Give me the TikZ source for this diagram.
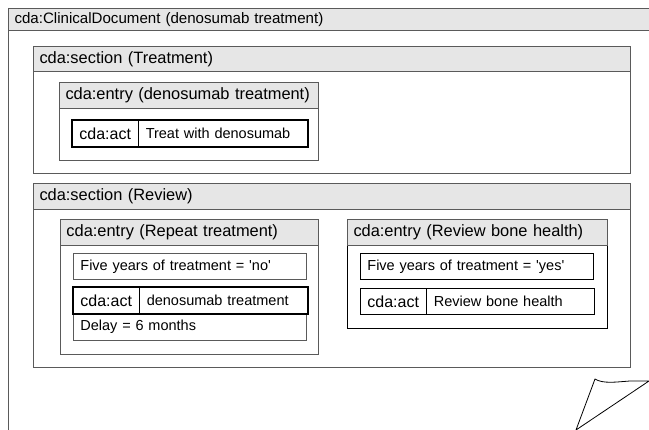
\documentclass[tikz,border=0pt]{standalone}
\usepackage{fontspec}
\setmainfont{Liberation Sans}
\definecolor{hdrgray}{HTML}{E6E6E6}
\definecolor{linegray}{HTML}{5A5A5A}
\tikzset{frame/.style={draw=linegray,line width=1pt,anchor=north west,inner sep=0pt}}
\tikzset{hdr/.style={draw=linegray,fill=hdrgray,line width=1pt,anchor=north west,inner xsep=6pt,inner ysep=0pt,align=left,font={\fontsize{16.4}{19}\selectfont}}}
\tikzset{cell/.style={draw=#1,line width=0.8pt,anchor=north west,inner xsep=7pt,inner ysep=0pt,align=left,minimum height=26pt,font={\fontsize{14.5}{17}\selectfont}}}
\tikzset{cell/.default={black}}
\tikzset{actlbl/.style={cell,minimum width=65pt,font={\fontsize{16}{19}\selectfont}}}
\tikzset{actbox/.style={draw,line width=1.6pt}}

\begin{document}
\begin{tikzpicture}[x=1pt,y=-1pt]
        \useasboundingbox (0,0) rectangle (649,430);
        % clinical document
        \coordinate (docbot) at (8,430);
        \node[hdr,text width=632pt,minimum height=22pt,font={\fontsize{15.1}{18}\selectfont}] (doch) at (8,8) {cda:ClinicalDocument (denosumab treatment)};
        \draw[linegray,line width=1pt] (doch.north west) -- (docbot);

        % section: treatment
        \node[frame,minimum width=597pt,minimum height=127pt] (sec1) at (33,46) {};
        \node[hdr,text width=585pt,minimum height=25pt] (sec1h) at (sec1.north west) {cda:section (Treatment)};
        \node[frame,minimum width=259pt,minimum height=78pt] (ent1) at (59,82) {};
        \node[hdr,text width=247pt,minimum height=26pt] (ent1h) at (ent1.north west) {cda:entry (denosumab treatment)};
        \node[actlbl] (act1a) at (72,120) {cda:act};
        \node[cell,text width=155pt] (act1b) at (act1a.north east) {Treat with denosumab};
        \draw[actbox] (act1a.north west) rectangle (act1b.south east);

        % section: review
        \node[frame,minimum width=597pt,minimum height=184pt] (sec2) at (33,183) {};
        \node[hdr,text width=585pt,minimum height=26pt] (sec2h) at (sec2.north west) {cda:section (Review)};

        % entry: repeat treatment
        \node[frame,minimum width=258pt,minimum height=135pt] (ent2) at (60,219) {};
        \node[hdr,text width=246pt,minimum height=26pt] (ent2h) at (ent2.north west) {cda:entry (Repeat treatment)};
        \node[cell=linegray,text width=219pt] (cond2) at (73,253) {Five years of treatment = \textquotesingle no\textquotesingle};
        \node[actlbl] (act2a) at (73,287) {cda:act};
        \node[cell,text width=154pt] (act2b) at (act2a.north east) {denosumab treatment};
        \node[cell=linegray,text width=219pt] (delay2) at (act2a.south west) {Delay = 6 months};
        \draw[actbox] (act2a.north west) rectangle (act2b.south east);

        % entry: review bone health
        \node[frame,draw=black,minimum width=260pt,minimum height=109pt] (ent3) at (347,219) {};
        \node[hdr,text width=248pt,minimum height=26pt] (ent3h) at (ent3.north west) {cda:entry (Review bone health)};
        \node[cell,text width=219pt] (cond3) at (360,253) {Five years of treatment = \textquotesingle yes\textquotesingle};
        \node[actlbl] (act3a) at (360,288) {cda:act};
        \node[cell,text width=154pt] (act3b) at (act3a.north east) {Review bone health};

        % page curl
        \draw[line width=0.8pt,line join=round] (576,430) -- (595,379) .. controls (603,384) and (616,382) .. (630,381) -- (649,381) -- cycle;
\end{tikzpicture}
\end{document}
